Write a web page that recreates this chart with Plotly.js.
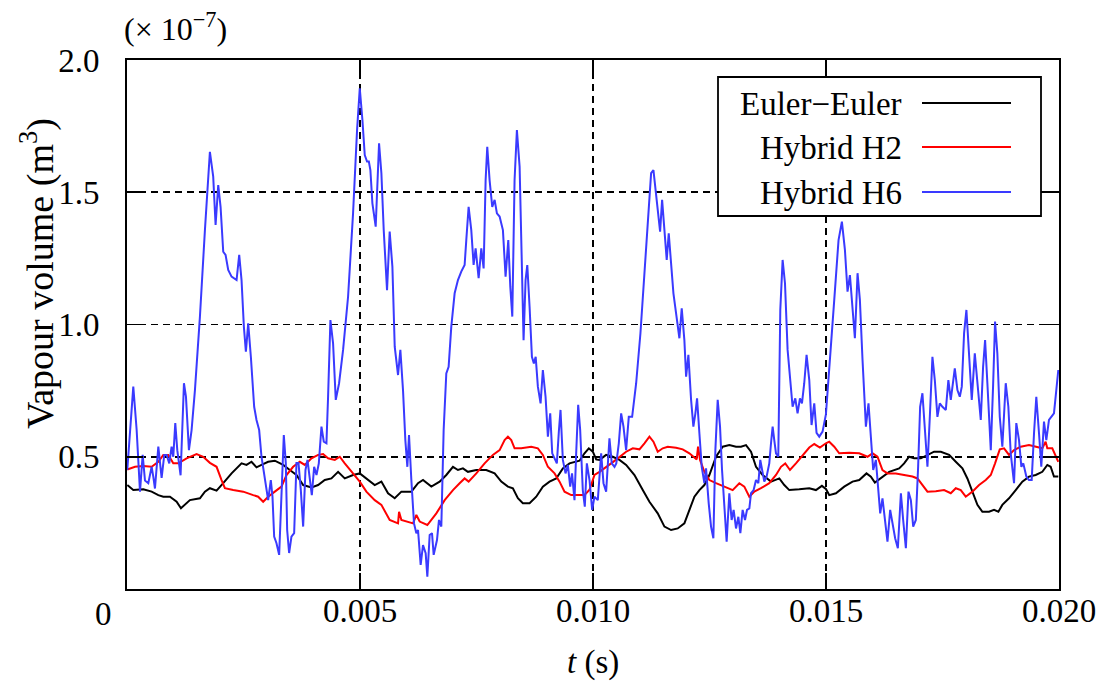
<!DOCTYPE html>
<html>
<head>
<meta charset="utf-8">
<script src="https://cdn.plot.ly/plotly-3.0.1.min.js"></script>
<style>html,body{margin:0;padding:0;background:#fff;}#chart{width:1096px;height:689px;}</style>
</head>
<body>
<div id="chart"></div>
<script>
// ---- data: time in seconds, vapour volume in units of 1e-7 m^3 ----
const tEuler = [0.006e-3,0.135e-3,0.350e-3,0.529e-3,0.672e-3,0.779e-3,0.922e-3,1.065e-3,1.158e-3,1.243e-3,1.350e-3,1.565e-3,1.672e-3,1.779e-3,1.922e-3,2.065e-3,2.244e-3,2.458e-3,2.565e-3,2.672e-3,2.779e-3,2.886e-3,3.029e-3,3.172e-3,3.351e-3,3.494e-3,3.637e-3,3.780e-3,3.959e-3,4.101e-3,4.244e-3,4.387e-3,4.530e-3,4.673e-3,4.851e-3,4.995e-3,5.173e-3,5.316e-3,5.459e-3,5.602e-3,5.745e-3,5.888e-3,6.102e-3,6.245e-3,6.352e-3,6.531e-3,6.709e-3,6.852e-3,6.995e-3,7.102e-3,7.209e-3,7.316e-3,7.496e-3,7.710e-3,7.889e-3,8.032e-3,8.174e-3,8.281e-3,8.388e-3,8.495e-3,8.639e-3,8.782e-3,8.924e-3,9.067e-3,9.211e-3,9.353e-3,9.496e-3,9.711e-3,9.818e-3,9.910e-3,9.996e-3,10.068e-3,10.139e-3,10.282e-3,10.425e-3,10.568e-3,10.711e-3,10.890e-3,11.068e-3,11.211e-3,11.389e-3,11.533e-3,11.676e-3,11.818e-3,11.961e-3,12.068e-3,12.176e-3,12.283e-3,12.390e-3,12.497e-3,12.640e-3,12.783e-3,12.926e-3,13.069e-3,13.176e-3,13.283e-3,13.391e-3,13.498e-3,13.640e-3,13.820e-3,13.998e-3,14.105e-3,14.212e-3,14.426e-3,14.641e-3,14.784e-3,14.912e-3,14.998e-3,15.069e-3,15.213e-3,15.391e-3,15.569e-3,15.713e-3,15.869e-3,15.963e-3,16.049e-3,16.178e-3,16.356e-3,16.570e-3,16.677e-3,16.784e-3,16.891e-3,17.035e-3,17.177e-3,17.320e-3,17.464e-3,17.642e-3,17.785e-3,17.927e-3,18.034e-3,18.141e-3,18.249e-3,18.356e-3,18.499e-3,18.606e-3,18.699e-3,18.784e-3,18.928e-3,19.071e-3,19.213e-3,19.356e-3,19.500e-3,19.642e-3,19.749e-3,19.821e-3,19.892e-3,19.985e-3];
const vEuler = [0.393,0.374,0.377,0.368,0.355,0.349,0.349,0.330,0.305,0.318,0.336,0.343,0.368,0.381,0.372,0.400,0.437,0.475,0.469,0.481,0.460,0.469,0.481,0.485,0.469,0.450,0.431,0.393,0.384,0.393,0.412,0.418,0.443,0.418,0.431,0.437,0.412,0.393,0.406,0.362,0.343,0.368,0.368,0.400,0.412,0.387,0.406,0.431,0.462,0.450,0.456,0.443,0.450,0.450,0.437,0.406,0.387,0.381,0.343,0.324,0.324,0.349,0.387,0.406,0.418,0.456,0.475,0.485,0.513,0.532,0.519,0.490,0.488,0.507,0.500,0.488,0.469,0.431,0.374,0.330,0.286,0.236,0.223,0.229,0.248,0.299,0.349,0.374,0.393,0.431,0.500,0.538,0.544,0.538,0.538,0.544,0.519,0.462,0.431,0.406,0.418,0.393,0.374,0.377,0.381,0.374,0.390,0.378,0.355,0.362,0.387,0.406,0.412,0.437,0.425,0.402,0.418,0.443,0.456,0.475,0.500,0.494,0.494,0.507,0.519,0.519,0.507,0.481,0.456,0.418,0.368,0.318,0.292,0.292,0.299,0.292,0.318,0.343,0.374,0.406,0.425,0.431,0.443,0.469,0.462,0.425,0.425];

const tH2 = [0.006e-3,0.172e-3,0.350e-3,0.529e-3,0.672e-3,0.779e-3,0.886e-3,0.993e-3,1.100e-3,1.279e-3,1.493e-3,1.636e-3,1.779e-3,1.922e-3,2.029e-3,2.101e-3,2.279e-3,2.494e-3,2.708e-3,2.815e-3,2.922e-3,3.029e-3,3.172e-3,3.315e-3,3.423e-3,3.565e-3,3.708e-3,3.816e-3,3.959e-3,4.101e-3,4.208e-3,4.315e-3,4.459e-3,4.566e-3,4.673e-3,4.851e-3,4.995e-3,5.137e-3,5.316e-3,5.459e-3,5.566e-3,5.637e-3,5.816e-3,5.838e-3,5.888e-3,6.030e-3,6.138e-3,6.209e-3,6.281e-3,6.445e-3,6.638e-3,6.817e-3,6.995e-3,7.138e-3,7.245e-3,7.331e-3,7.496e-3,7.674e-3,7.852e-3,7.996e-3,8.103e-3,8.174e-3,8.246e-3,8.317e-3,8.460e-3,8.675e-3,8.817e-3,8.924e-3,9.032e-3,9.175e-3,9.282e-3,9.389e-3,9.532e-3,9.711e-3,9.818e-3,9.925e-3,10.032e-3,10.139e-3,10.247e-3,10.390e-3,10.532e-3,10.711e-3,10.854e-3,10.997e-3,11.104e-3,11.211e-3,11.297e-3,11.389e-3,11.497e-3,11.604e-3,11.783e-3,11.925e-3,12.068e-3,12.225e-3,12.254e-3,12.297e-3,12.390e-3,12.497e-3,12.640e-3,12.819e-3,12.997e-3,13.140e-3,13.247e-3,13.355e-3,13.462e-3,13.605e-3,13.783e-3,13.927e-3,14.034e-3,14.126e-3,14.227e-3,14.355e-3,14.497e-3,14.641e-3,14.748e-3,14.869e-3,14.998e-3,15.069e-3,15.177e-3,15.284e-3,15.498e-3,15.713e-3,15.891e-3,15.998e-3,16.105e-3,16.212e-3,16.319e-3,16.498e-3,16.677e-3,16.855e-3,16.962e-3,17.069e-3,17.177e-3,17.356e-3,17.534e-3,17.678e-3,17.785e-3,17.892e-3,17.999e-3,18.141e-3,18.285e-3,18.428e-3,18.536e-3,18.628e-3,18.729e-3,18.821e-3,18.928e-3,19.035e-3,19.178e-3,19.356e-3,19.535e-3,19.642e-3,19.713e-3,19.749e-3,19.856e-3,19.985e-3];
const vH2 = [0.452,0.462,0.465,0.462,0.481,0.507,0.507,0.475,0.475,0.494,0.510,0.500,0.477,0.462,0.412,0.381,0.374,0.368,0.355,0.349,0.330,0.349,0.368,0.387,0.431,0.462,0.481,0.469,0.494,0.507,0.510,0.494,0.488,0.500,0.475,0.437,0.406,0.368,0.336,0.318,0.286,0.261,0.248,0.292,0.261,0.255,0.248,0.280,0.255,0.242,0.286,0.336,0.374,0.400,0.418,0.406,0.437,0.475,0.507,0.525,0.563,0.576,0.563,0.532,0.532,0.538,0.532,0.507,0.462,0.437,0.406,0.368,0.355,0.355,0.355,0.375,0.431,0.443,0.456,0.475,0.494,0.519,0.532,0.528,0.551,0.576,0.557,0.519,0.532,0.538,0.534,0.528,0.513,0.490,0.538,0.488,0.443,0.412,0.400,0.387,0.374,0.400,0.387,0.349,0.368,0.381,0.400,0.431,0.462,0.475,0.450,0.475,0.507,0.535,0.548,0.535,0.551,0.557,0.538,0.513,0.515,0.513,0.500,0.513,0.500,0.450,0.437,0.437,0.431,0.425,0.418,0.393,0.368,0.370,0.374,0.362,0.381,0.374,0.349,0.368,0.393,0.412,0.431,0.475,0.528,0.532,0.507,0.525,0.538,0.544,0.538,0.532,0.557,0.532,0.532,0.481];

const tH6 = [0.006e-3,0.135e-3,0.207e-3,0.279e-3,0.336e-3,0.386e-3,0.457e-3,0.529e-3,0.564e-3,0.600e-3,0.672e-3,0.743e-3,0.800e-3,0.850e-3,0.907e-3,0.957e-3,0.993e-3,1.036e-3,1.079e-3,1.150e-3,1.222e-3,1.265e-3,1.329e-3,1.386e-3,1.458e-3,1.565e-3,1.672e-3,1.779e-3,1.850e-3,1.901e-3,1.958e-3,2.008e-3,2.065e-3,2.115e-3,2.172e-3,2.244e-3,2.351e-3,2.408e-3,2.458e-3,2.508e-3,2.551e-3,2.601e-3,2.658e-3,2.729e-3,2.779e-3,2.836e-3,2.886e-3,2.958e-3,3.029e-3,3.086e-3,3.122e-3,3.158e-3,3.208e-3,3.265e-3,3.315e-3,3.365e-3,3.408e-3,3.437e-3,3.479e-3,3.529e-3,3.587e-3,3.637e-3,3.680e-3,3.730e-3,3.780e-3,3.830e-3,3.873e-3,3.923e-3,3.966e-3,4.016e-3,4.066e-3,4.116e-3,4.173e-3,4.223e-3,4.280e-3,4.315e-3,4.365e-3,4.422e-3,4.480e-3,4.551e-3,4.637e-3,4.744e-3,4.851e-3,4.937e-3,4.995e-3,5.052e-3,5.102e-3,5.151e-3,5.190e-3,5.223e-3,5.266e-3,5.337e-3,5.409e-3,5.459e-3,5.509e-3,5.580e-3,5.637e-3,5.695e-3,5.745e-3,5.816e-3,5.866e-3,5.923e-3,5.973e-3,6.016e-3,6.052e-3,6.102e-3,6.159e-3,6.209e-3,6.245e-3,6.302e-3,6.352e-3,6.409e-3,6.445e-3,6.495e-3,6.545e-3,6.581e-3,6.652e-3,6.695e-3,6.745e-3,6.795e-3,6.852e-3,6.902e-3,6.959e-3,7.031e-3,7.102e-3,7.173e-3,7.245e-3,7.281e-3,7.331e-3,7.388e-3,7.438e-3,7.481e-3,7.546e-3,7.603e-3,7.653e-3,7.696e-3,7.731e-3,7.781e-3,7.838e-3,7.889e-3,7.938e-3,7.996e-3,8.067e-3,8.124e-3,8.182e-3,8.225e-3,8.268e-3,8.317e-3,8.367e-3,8.425e-3,8.474e-3,8.510e-3,8.553e-3,8.590e-3,8.639e-3,8.689e-3,8.731e-3,8.770e-3,8.817e-3,8.875e-3,8.924e-3,8.982e-3,9.032e-3,9.082e-3,9.125e-3,9.160e-3,9.224e-3,9.267e-3,9.303e-3,9.353e-3,9.410e-3,9.460e-3,9.511e-3,9.550e-3,9.603e-3,9.639e-3,9.682e-3,9.725e-3,9.781e-3,9.824e-3,9.868e-3,9.925e-3,9.982e-3,10.032e-3,10.103e-3,10.175e-3,10.225e-3,10.282e-3,10.353e-3,10.403e-3,10.461e-3,10.500e-3,10.554e-3,10.604e-3,10.654e-3,10.711e-3,10.768e-3,10.840e-3,10.926e-3,11.018e-3,11.104e-3,11.190e-3,11.247e-3,11.297e-3,11.354e-3,11.404e-3,11.440e-3,11.483e-3,11.533e-3,11.582e-3,11.625e-3,11.676e-3,11.726e-3,11.783e-3,11.854e-3,11.904e-3,11.961e-3,11.998e-3,12.047e-3,12.105e-3,12.154e-3,12.197e-3,12.233e-3,12.283e-3,12.333e-3,12.390e-3,12.426e-3,12.483e-3,12.533e-3,12.583e-3,12.626e-3,12.676e-3,12.726e-3,12.769e-3,12.819e-3,12.868e-3,12.925e-3,12.975e-3,13.018e-3,13.069e-3,13.119e-3,13.162e-3,13.211e-3,13.262e-3,13.305e-3,13.355e-3,13.391e-3,13.447e-3,13.498e-3,13.548e-3,13.590e-3,13.627e-3,13.676e-3,13.725e-3,13.783e-3,13.820e-3,13.855e-3,13.890e-3,13.927e-3,13.976e-3,14.019e-3,14.069e-3,14.120e-3,14.176e-3,14.227e-3,14.283e-3,14.341e-3,14.390e-3,14.441e-3,14.484e-3,14.533e-3,14.583e-3,14.641e-3,14.690e-3,14.748e-3,14.797e-3,14.855e-3,14.926e-3,14.998e-3,15.069e-3,15.177e-3,15.269e-3,15.341e-3,15.406e-3,15.462e-3,15.513e-3,15.569e-3,15.620e-3,15.677e-3,15.727e-3,15.784e-3,15.856e-3,15.912e-3,15.963e-3,16.013e-3,16.070e-3,16.120e-3,16.163e-3,16.212e-3,16.270e-3,16.319e-3,16.377e-3,16.427e-3,16.484e-3,16.542e-3,16.607e-3,16.656e-3,16.714e-3,16.770e-3,16.821e-3,16.871e-3,16.928e-3,16.977e-3,17.020e-3,17.069e-3,17.121e-3,17.177e-3,17.228e-3,17.284e-3,17.335e-3,17.391e-3,17.442e-3,17.498e-3,17.571e-3,17.626e-3,17.678e-3,17.712e-3,17.764e-3,17.820e-3,17.871e-3,17.914e-3,17.963e-3,18.013e-3,18.070e-3,18.128e-3,18.193e-3,18.249e-3,18.321e-3,18.371e-3,18.414e-3,18.463e-3,18.536e-3,18.585e-3,18.628e-3,18.677e-3,18.729e-3,18.784e-3,18.857e-3,18.913e-3,18.964e-3,19.035e-3,19.084e-3,19.142e-3,19.192e-3,19.234e-3,19.299e-3,19.356e-3,19.414e-3,19.464e-3,19.513e-3,19.571e-3,19.620e-3,19.678e-3,19.728e-3,19.785e-3,19.843e-3,19.892e-3,19.942e-3,19.985e-3];
const vH6 = [0.45,0.765,0.601,0.368,0.507,0.41,0.40,0.462,0.425,0.38,0.538,0.42,0.507,0.507,0.475,0.538,0.500,0.627,0.525,0.43,0.778,0.727,0.525,0.601,0.752,1.03,1.357,1.653,1.559,1.376,1.527,1.445,1.275,1.263,1.206,1.181,1.168,1.263,1.168,0.992,0.897,1.004,0.878,0.689,0.639,0.601,0.500,0.412,0.336,0.412,0.349,0.198,0.173,0.129,0.349,0.582,0.475,0.223,0.136,0.198,0.211,0.476,0.476,0.374,0.236,0.45,0.488,0.412,0.355,0.462,0.431,0.475,0.614,0.557,0.551,0.727,1.017,0.929,0.715,0.778,0.904,1.105,1.42,1.735,1.893,1.773,1.641,1.616,1.616,1.584,1.458,1.370,1.685,1.572,1.357,1.130,1.351,1.219,0.916,0.809,0.904,0.752,0.563,0.462,0.582,0.412,0.248,0.211,0.223,0.091,0.166,0.135,0.047,0.204,0.211,0.129,0.185,0.261,0.236,0.601,0.815,0.840,0.992,1.118,1.168,1.200,1.225,1.319,1.445,1.357,1.225,1.288,1.175,1.288,1.212,1.546,1.672,1.546,1.445,1.471,1.420,1.408,1.357,1.181,1.319,1.143,1.030,1.546,1.735,1.597,1.269,0.941,1.168,1.225,1.067,0.878,0.853,0.878,0.765,0.702,0.828,0.727,0.576,0.664,0.513,0.500,0.475,0.595,0.677,0.488,0.437,0.469,0.387,0.437,0.336,0.513,0.696,0.601,0.374,0.311,0.475,0.412,0.299,0.349,0.336,0.513,0.400,0.368,0.570,0.475,0.462,0.475,0.551,0.664,0.614,0.525,0.651,0.651,0.778,0.967,1.206,1.433,1.572,1.584,1.496,1.395,1.351,1.471,1.370,1.244,1.345,1.219,1.118,1.042,0.948,1.061,0.941,0.803,0.885,0.715,0.614,0.664,0.721,0.589,0.462,0.400,0.456,0.324,0.236,0.192,0.525,0.715,0.614,0.450,0.299,0.179,0.362,0.261,0.299,0.229,0.273,0.211,0.299,0.261,0.299,0.305,0.362,0.374,0.412,0.400,0.488,0.450,0.406,0.425,0.475,0.551,0.614,0.563,0.513,0.500,1.055,1.244,1.156,0.904,0.803,0.689,0.721,0.664,0.721,0.702,0.778,0.885,0.790,0.620,0.702,0.590,0.576,0.595,0.660,0.820,1.093,1.319,1.389,1.282,1.124,1.187,1.055,0.948,1.194,1.093,0.866,0.614,0.702,0.589,0.450,0.488,0.374,0.286,0.343,0.261,0.179,0.299,0.248,0.192,0.154,0.362,0.261,0.154,0.368,0.336,0.236,0.261,0.462,0.689,0.740,0.589,0.462,0.651,0.878,0.790,0.651,0.702,0.689,0.677,0.790,0.715,0.765,0.834,0.752,0.727,0.765,0.967,1.055,0.904,0.715,0.891,0.790,0.639,0.840,0.941,0.778,0.525,0.765,1.011,0.891,0.651,0.538,0.778,0.689,0.513,0.400,0.627,0.563,0.462,0.475,0.425,0.412,0.412,0.589,0.727,0.589,0.462,0.633,0.563,0.639,0.651,0.664,0.752,0.828];

const seriesNames = ['Euler\u2212Euler', 'Hybrid H2', 'Hybrid H6'];
const seriesColors = ['#000000', '#ff0000', '#3a3aff'];
const xTickVals = [0.005, 0.010, 0.015, 0.020];
const xTickText = ['0.005', '0.010', '0.015', '0.020'];
const yTickVals = [0.5, 1.0, 1.5, 2.0];
const yTickText = ['0.5', '1.0', '1.5', '2.0'];

// ---- layout geometry (pixels) ----
const W = 1096, H = 689, L = 127, R = 37, T = 60, B = 100;
const PW = W - L - R, PH = H - T - B;
const px = x => (x - L) / PW;
const py = y => (H - B - y) / PH;
const FONT = '"Liberation Serif", "Times New Roman", serif';

const traces = [
  {x: tEuler, y: vEuler, name: seriesNames[0]},
  {x: tH2, y: vH2, name: seriesNames[1]},
  {x: tH6, y: vH6, name: seriesNames[2]}
].map((tr, i) => Object.assign(tr, {
  type: 'scatter', mode: 'lines', showlegend: false,
  line: {color: seriesColors[i], width: 2}, hoverinfo: 'skip'
}));

// manual legend (text on the left, line sample on the right)
const legRows = [103, 147, 192];
const shapes = [{
  type: 'rect', xref: 'paper', yref: 'paper',
  x0: px(718), x1: px(1041), y0: py(216), y1: py(77),
  line: {color: '#000', width: 1.8}, fillcolor: '#fff', layer: 'above'
}];
const annotations = [];
legRows.forEach((ry, i) => {
  shapes.push({type: 'line', xref: 'paper', yref: 'paper',
    x0: px(922), x1: px(1011), y0: py(ry), y1: py(ry),
    line: {color: seriesColors[i], width: 2}, layer: 'above'});
  annotations.push({xref: 'paper', yref: 'paper', x: px(904), y: py(ry + 1),
    xanchor: 'right', yanchor: 'middle', showarrow: false, text: seriesNames[i],
    font: {family: FONT, size: 33, color: '#000'}});
});
annotations.push({xref: 'paper', yref: 'paper', x: px(122), y: py(27), xanchor: 'left', yanchor: 'middle',
  showarrow: false, text: '(\u00d7 10<sup>\u22127</sup>)', font: {family: FONT, size: 32, color: '#000'}});
annotations.push({xref: 'paper', yref: 'paper', x: px(103), y: py(614), xanchor: 'center', yanchor: 'middle',
  showarrow: false, text: '0', font: {family: FONT, size: 33, color: '#000'}});
annotations.push({xref: 'paper', yref: 'paper', x: px(593), y: py(662), xanchor: 'center', yanchor: 'middle',
  showarrow: false, text: '<i>t</i> (s)', font: {family: FONT, size: 33, color: '#000'}});
annotations.push({xref: 'paper', yref: 'paper', x: px(37), y: py(274), xanchor: 'center', yanchor: 'middle',
  textangle: -90, showarrow: false, text: 'Vapour volume (m<sup>3</sup>)', font: {family: FONT, size: 38, color: '#000'}});

const axisCommon = {
  showline: true, linecolor: '#000', linewidth: 2, mirror: 'ticks',
  ticks: 'inside', ticklen: 16, tickwidth: 1.8, tickcolor: '#000',
  showgrid: true, gridcolor: '#000', gridwidth: 1.8, griddash: '7px,5px',
  zeroline: false, tickfont: {family: FONT, size: 33, color: '#000'}, fixedrange: true
};

const layout = {
  width: W, height: H, margin: {l: L, r: R, t: T, b: B, pad: 0},
  paper_bgcolor: '#fff', plot_bgcolor: '#fff', showlegend: false,
  font: {family: FONT, color: '#000'},
  xaxis: Object.assign({}, axisCommon, {range: [0, 0.02], tickmode: 'array', tickvals: xTickVals, ticktext: xTickText,
    ticklabelstandoff: -9, ticklabeloverflow: 'allow'}),
  yaxis: Object.assign({}, axisCommon, {range: [0, 2], tickmode: 'array', tickvals: yTickVals, ticktext: yTickText, ticklabelstandoff: 19}),
  shapes: shapes, annotations: annotations
};

Plotly.newPlot('chart', traces, layout, {displayModeBar: false, staticPlot: true});
</script>
</body>
</html>
